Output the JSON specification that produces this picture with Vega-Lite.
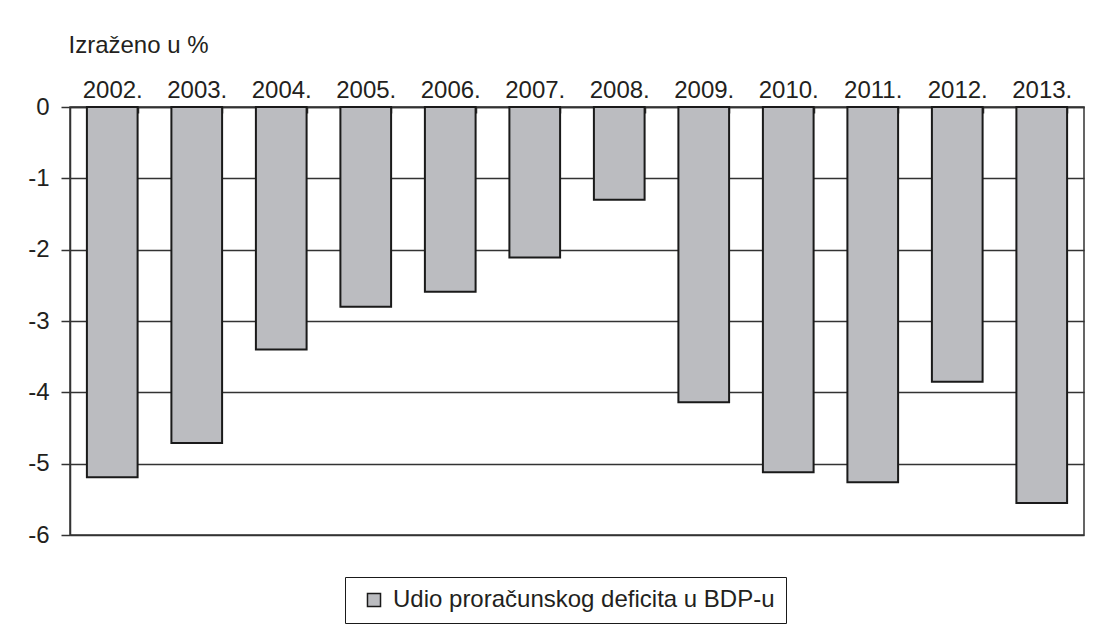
{
  "$schema": "https://vega.github.io/schema/vega-lite/v6.json",
  "width": 1014,
  "height": 428,
  "autosize": {"type": "none"},
  "padding": {"left": 70, "top": 107, "right": 10, "bottom": 103},
  "background": "white",
  "config": {
    "font": "Liberation Sans",
    "view": {"stroke": "#333333", "strokeWidth": 1.5},
    "axis": {"labelFont": "Liberation Sans", "titleFont": "Liberation Sans", "labelColor": "#231f20", "titleColor": "#231f20"}
  },
  "data": {
    "values": [
      {"year": "2002.", "value": -5.19, "series": "Udio proračunskog deficita u BDP-u"},
      {"year": "2003.", "value": -4.71, "series": "Udio proračunskog deficita u BDP-u"},
      {"year": "2004.", "value": -3.40, "series": "Udio proračunskog deficita u BDP-u"},
      {"year": "2005.", "value": -2.80, "series": "Udio proračunskog deficita u BDP-u"},
      {"year": "2006.", "value": -2.59, "series": "Udio proračunskog deficita u BDP-u"},
      {"year": "2007.", "value": -2.11, "series": "Udio proračunskog deficita u BDP-u"},
      {"year": "2008.", "value": -1.30, "series": "Udio proračunskog deficita u BDP-u"},
      {"year": "2009.", "value": -4.14, "series": "Udio proračunskog deficita u BDP-u"},
      {"year": "2010.", "value": -5.12, "series": "Udio proračunskog deficita u BDP-u"},
      {"year": "2011.", "value": -5.26, "series": "Udio proračunskog deficita u BDP-u"},
      {"year": "2012.", "value": -3.85, "series": "Udio proračunskog deficita u BDP-u"},
      {"year": "2013.", "value": -5.55, "series": "Udio proračunskog deficita u BDP-u"}
    ]
  },
  "mark": {"type": "bar", "stroke": "#1a1a1a", "strokeWidth": 2},
  "encoding": {
    "x": {
      "field": "year",
      "type": "nominal",
      "sort": null,
      "scale": {"paddingInner": 0.4, "paddingOuter": 0.2},
      "axis": {
        "orient": "top",
        "title": null,
        "labelAngle": 0,
        "labelFontSize": 24,
        "labelPadding": 11,
        "tickBand": "extent",
        "tickSize": -6,
        "tickColor": "#333333",
        "tickWidth": 1.5,
        "domainColor": "#333333",
        "domainWidth": 1.5
      }
    },
    "y": {
      "field": "value",
      "type": "quantitative",
      "scale": {"domain": [-6, 0], "nice": false},
      "axis": {
        "values": [-6, -5, -4, -3, -2, -1, 0],
        "labelExpr": "'' + datum.value",
        "labelFontSize": 24,
        "labelPadding": 12,
        "tickSize": 9,
        "tickColor": "#333333",
        "tickWidth": 1.5,
        "domainColor": "#333333",
        "domainWidth": 1.5,
        "grid": true,
        "gridColor": "#333333",
        "gridWidth": 1.5,
        "gridOpacity": 1,
        "title": "Izraženo u %",
        "titleAngle": 0,
        "titleFontSize": 24,
        "titleFontWeight": "normal",
        "titleAlign": "left",
        "titleBaseline": "alphabetic",
        "titleX": -2,
        "titleY": -55
      }
    },
    "color": {
      "field": "series",
      "type": "nominal",
      "scale": {"range": ["#bbbcc0"]},
      "legend": {
        "title": null,
        "orient": "none",
        "legendX": 275,
        "legendY": 470,
        "direction": "horizontal",
        "labelFontSize": 24,
        "labelColor": "#231f20",
        "labelOffset": 7,
        "symbolType": "square",
        "symbolSize": 170,
        "symbolOffset": 6,
        "symbolStrokeColor": "#1a1a1a",
        "symbolStrokeWidth": 1.5,
        "strokeColor": "#1a1a1a",
        "padding": 11,
        "labelLimit": 600
      }
    }
  }
}
